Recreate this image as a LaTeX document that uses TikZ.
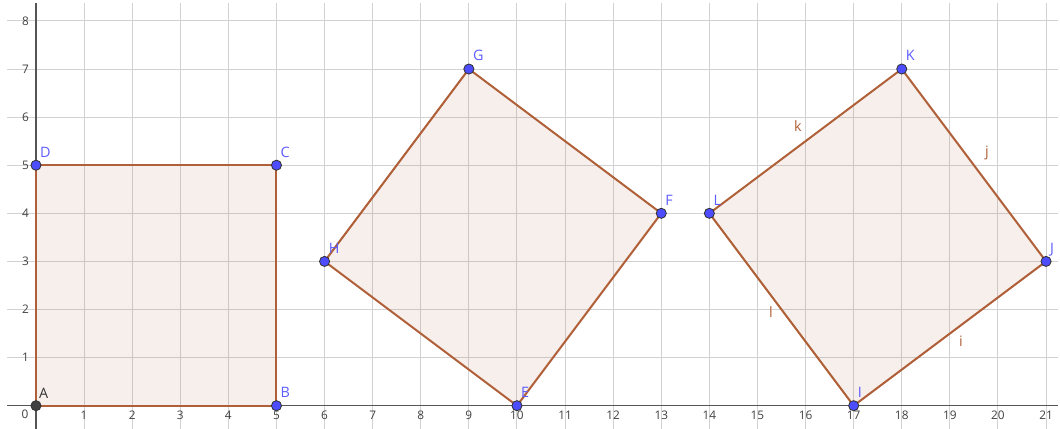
\documentclass[tikz,border=0pt]{standalone}
\usepackage{fontspec}
\setmainfont{Open Sans}
\usepackage{tikz}
\usetikzlibrary{calc}

\definecolor{gridgray}{RGB}{210,210,210}
\definecolor{axisgray}{RGB}{85,85,85}
\definecolor{polybrown}{RGB}{176,96,56}
\definecolor{ptblue}{RGB}{77,77,255}
\definecolor{lblblue}{RGB}{92,92,255}

\begin{document}
\begin{tikzpicture}[
  x=1cm, y=1cm,
  gridline/.style={draw=gridgray, line width=0.6pt},
  axis/.style    ={draw=axisgray, line width=0.9pt},
  ticklbl/.style ={font=\fontsize{7}{8}\selectfont, text=black!75, inner sep=0pt},
  poly/.style    ={draw=polybrown, line width=1.2pt, line join=round,
                   fill=polybrown, fill opacity=0.1},
  pt/.style      ={circle, draw=black!80, fill=ptblue, line width=0.5pt,
                   minimum size=2.1mm, inner sep=0pt},
  ptlbl/.style   ={font=\fontsize{8.5}{10}\selectfont, text=lblblue,
                   anchor=base west, inner sep=0pt},
  seglbl/.style  ={font=\fontsize{8.5}{10}\selectfont, text=polybrown, inner sep=0pt}
]
\useasboundingbox (-0.748,-0.477) rectangle (21.29,8.435);

% grid and axes
\foreach \i in {1,...,21} \draw[gridline] (\i,-0.477) -- (\i,8.37);
\foreach \j in {1,...,8} \draw[gridline] (-0.6,\j) -- (21.25,\j);
\draw[axis] (-0.6,0) -- (21.25,0);
\draw[axis] (0,-0.477) -- (0,8.37);
\foreach \i in {1,...,21} \node[ticklbl] (tx\i) at (\i,-0.2) {\i};
\foreach \j in {1,...,8} \node[ticklbl] (ty\j) at (-0.22,\j) {\j};
\node[ticklbl] (t0) at (-0.23,-0.18) {0};

\coordinate (A) at (0,0);  \coordinate (B) at (5,0);
\coordinate (C) at (5,5);  \coordinate (D) at (0,5);
\coordinate (E) at (10,0); \coordinate (F) at (13,4);
\coordinate (G) at (9,7);  \coordinate (H) at (6,3);
\coordinate (I) at (17,0); \coordinate (J) at (21,3);
\coordinate (K) at (18,7); \coordinate (L) at (14,4);

\draw[poly] (A) -- (B) -- (C) -- (D) -- cycle;
\draw[poly] (E) -- (F) -- (G) -- (H) -- cycle;
\draw[poly] (I) -- (J) -- (K) -- (L) -- cycle;

% side names of the third square
\node[seglbl] (sk) at (15.84,5.82) {k};
\node[seglbl] (sj) at (19.77,5.26) {j};
\node[seglbl] (sl) at (15.28,1.95) {l};
\node[seglbl] (si) at (19.23,1.35) {i};

\node[pt, fill=black!75] (pA) at (A) {};
\node[ptlbl, text=black!80] (lA) at ($(A)+(0.06,0.14)$) {A};
\foreach \p in {B,C,D,E,F,G,H,I,J,K,L} {
  \node[pt] (p\p) at (\p) {};
  \node[ptlbl] (l\p) at ($(\p)+(0.08,0.17)$) {\p};
}
\end{tikzpicture}
\end{document}
